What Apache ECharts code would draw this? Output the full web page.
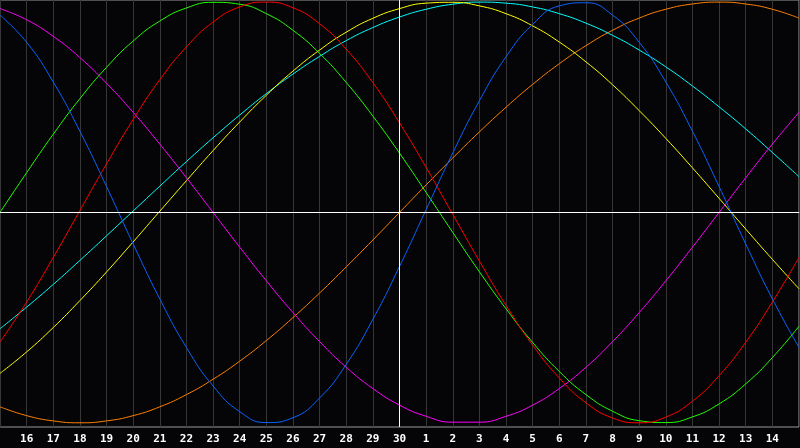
<!DOCTYPE html>
<html>
<head>
<meta charset="utf-8">
<script src="https://cdn.jsdelivr.net/npm/echarts@6/dist/echarts.min.js"></script>
<style>
  html, body { margin: 0; padding: 0; background: #050507; }
  #chart { width: 800px; height: 448px; }
</style>
</head>
<body>
<div id="chart"></div>
<script>
// days shown (previous month 15 .. next month 15), 30 is "today"
const dayLabels = ['15', '16', '17', '18', '19', '20', '21', '22', '23', '24', '25', '26', '27', '28', '29', '30',
  '1', '2', '3', '4', '5', '6', '7', '8', '9', '10', '11', '12', '13', '14', '15']

// cycle values in percent, one per day
const blueValues = [93.8, 80.9, 62.0, 38.6, 12.3, -15.0, -41.1, -64.2, -82.5, -94.7, -99.9, -97.6, -88.2, -72.2, -50.8, -25.7,
  1.4, 28.3, 53.1, 74.0, 89.4, 98.2, 99.7, 93.8, 80.9, 62.0, 38.6, 12.3, -15.0, -41.1, -64.2]
const redValues = [-61.6, -42.6, -21.4, 0.9, 23.1, 44.2, 63.1, 78.7, 90.5, 97.7, 100, 97.3, 89.7, 77.6, 61.7, 42.6,
  21.4, -0.9, -23.1, -44.2, -63.1, -78.7, -90.5, -97.7, -100, -97.3, -89.7, -77.6, -61.7, -42.6, -21.4]
const greenValues = [0, 18.9, 37.2, 54.1, 69.0, 81.5, 91.0, 97.2, 99.9, 99.0, 94.5, 86.6, 75.6, 61.8, 45.8, 28.2,
  9.5, -9.5, -28.2, -45.8, -61.8, -75.6, -86.6, -94.5, -99.0, -99.9, -97.2, -91.0, -81.5, -69.0, -54.1]
const magentaValues = [96.9, 91.6, 83.7, 73.6, 61.4, 47.6, 32.5, 16.5, 0, -16.5, -32.5, -47.6, -61.4, -73.6, -83.7, -91.6,
  -96.9, -99.7, -99.7, -96.9, -91.6, -83.7, -73.6, -61.4, -47.6, -32.5, -16.5, 0, 16.5, 32.5, 47.6]
const yellowValues = [-76.5, -66.3, -54.7, -41.9, -28.3, -14.0, 0.6, 15.1, 29.4, 43.0, 55.7, 67.2, 77.2, 85.7, 92.3, 96.9,
  99.5, 99.9, 98.2, 94.5, 88.7, 81.0, 71.6, 60.7, 48.4, 35.2, 21.2, 6.7, -7.9, -22.3, -36.3]
const cyanValues = [-55.3, -45.0, -34.2, -22.8, -11.1, 0.7, 12.5, 24.2, 35.5, 46.3, 56.5, 65.8, 74.2, 81.7, 87.9, 92.9,
  96.6, 99.0, 100, 99.5, 97.7, 94.5, 90.0, 84.2, 77.2, 69.2, 60.1, 50.2, 39.7, 28.5, 17.0]
const orangeValues = [-92.4, -96.6, -99.1, -100, -99.1, -96.6, -92.4, -86.6, -79.3, -70.7, -60.9, -50.0, -38.3, -25.9, -13.1, 0,
  13.1, 25.9, 38.3, 50.0, 60.9, 70.7, 79.3, 86.6, 92.4, 96.6, 99.1, 100, 99.1, 96.6, 92.4]

const curves = [
  { name: 'orange', data: orangeValues, color: '#ff8000' },
  { name: 'cyan', data: cyanValues, color: '#00ffff' },
  { name: 'yellow', data: yellowValues, color: '#ffff00' },
  { name: 'magenta', data: magentaValues, color: '#ff00ff' },
  { name: 'green', data: greenValues, color: '#22ff00' },
  { name: 'red', data: redValues, color: '#ff0000' },
  { name: 'blue', data: blueValues, color: '#0a64ff' }
]

const chart = echarts.init(document.getElementById('chart'))

const series = curves.map(c => ({
  name: c.name,
  type: 'line',
  data: c.data,
  smooth: true,
  showSymbol: false,
  silent: true,
  z: 3,
  lineStyle: { color: c.color, width: 1 }
}))

// white cross: zero line and today line
series.push({
  type: 'line',
  data: [],
  z: 2,
  markLine: {
    silent: true,
    symbol: 'none',
    label: { show: false },
    lineStyle: { color: '#ffffff', width: 1, type: 'solid' },
    data: [{ yAxis: 0 }, { xAxis: '30' }]
  }
})

chart.setOption({
  backgroundColor: '#050507',
  animation: false,
  grid: {
    left: 0,
    right: 1,
    top: 0,
    height: 427,
    show: true,
    borderColor: '#9a9a9a',
    borderWidth: 1
  },
  xAxis: {
    type: 'category',
    data: dayLabels,
    boundaryGap: false,
    axisLine: { lineStyle: { color: '#a0a0a0', width: 1 } },
    axisTick: { show: false },
    axisLabel: {
      color: '#ffffff',
      fontFamily: 'DejaVu Sans Mono',
      fontWeight: 'bold',
      fontSize: 11,
      margin: 7,
      interval: (i) => i > 0 && i < dayLabels.length - 1
    },
    splitLine: { show: true, interval: 0, lineStyle: { color: '#363636', width: 1 } }
  },
  yAxis: {
    type: 'value',
    min: -102,
    max: 101,
    show: false,
    splitLine: { show: false }
  },
  series: series
})
</script>
</body>
</html>
